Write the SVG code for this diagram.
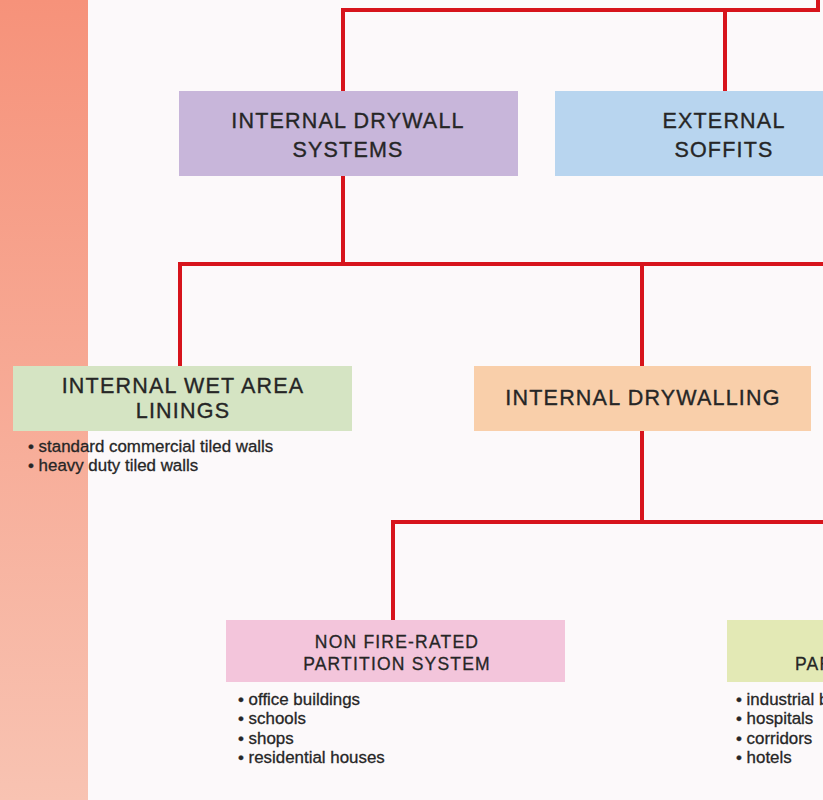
<svg xmlns="http://www.w3.org/2000/svg" width="823" height="800" viewBox="0 0 823 800">
<defs>
<linearGradient id="band" x1="0" y1="0" x2="0" y2="1">
<stop offset="0" stop-color="#f6927a"/>
<stop offset="1" stop-color="#f8c3b2"/>
</linearGradient>
</defs>
<style>
.t{font-family:"Liberation Sans",Arial,Helvetica,sans-serif;font-size:21.5px;letter-spacing:1.2px;fill:#262626;stroke:#262626;stroke-width:0.35px;text-anchor:middle}
.s{font-family:"Liberation Sans",Arial,Helvetica,sans-serif;font-size:17.5px;letter-spacing:1.2px;fill:#262626;stroke:#262626;stroke-width:0.3px;text-anchor:middle}
.b{font-family:"Liberation Sans",Arial,Helvetica,sans-serif;font-size:16.9px;fill:#262626;stroke:#262626;stroke-width:0.3px}
.c{fill:none;stroke:#d7141c;stroke-width:4;stroke-linecap:square}
</style>
<rect width="823" height="800" fill="#fcf9fa"/>
<rect x="0" y="0" width="88" height="800" fill="url(#band)"/>
<g id="connectors" class="c">
<path d="M818 0 V10 H343 V91"/>
<path d="M725 10 V91"/>
<path d="M343 176 V264"/>
<path d="M180 366 V264 H825"/>
<path d="M642 264 V366"/>
<path d="M642 431 V522"/>
<path d="M393 620 V522 H825"/>
</g>
<g id="internal-drywall-systems">
<rect x="179" y="91" width="339" height="85" fill="#c8b6da"/>
<text class="t" x="348" y="128">INTERNAL DRYWALL</text>
<text class="t" x="348" y="157">SYSTEMS</text>
</g>
<g id="external-soffits">
<rect x="555" y="91" width="270" height="85" fill="#b8d5ef"/>
<text class="t" x="724" y="128">EXTERNAL</text>
<text class="t" x="724" y="157">SOFFITS</text>
</g>
<g id="internal-wet-area-linings">
<rect x="13" y="366" width="339" height="65" fill="#d5e4c3"/>
<text class="t" x="183" y="393">INTERNAL WET AREA</text>
<text class="t" x="183" y="418">LININGS</text>
<text class="b" x="28" y="452">• standard commercial tiled walls</text>
<text class="b" x="28" y="471">• heavy duty tiled walls</text>
</g>
<g id="internal-drywalling">
<rect x="474" y="366" width="337" height="65" fill="#f9cfaa"/>
<text class="t" x="643" y="405">INTERNAL DRYWALLING</text>
</g>
<g id="non-fire-rated">
<rect x="226" y="620" width="339" height="62" fill="#f3c5db"/>
<text class="s" x="397" y="648">NON FIRE-RATED</text>
<text class="s" x="397" y="670">PARTITION SYSTEM</text>
<text class="b" x="238" y="705">• office buildings</text>
<text class="b" x="238" y="724">• schools</text>
<text class="b" x="238" y="744">• shops</text>
<text class="b" x="238" y="763">• residential houses</text>
</g>
<g id="fire-rated">
<rect x="727" y="620" width="100" height="62" fill="#e3e9b5"/>
<text class="s" x="795" y="670" style="text-anchor:start">PARTITION SYSTEM</text>
<text class="b" x="736" y="705">• industrial buildings</text>
<text class="b" x="736" y="724">• hospitals</text>
<text class="b" x="736" y="744">• corridors</text>
<text class="b" x="736" y="763">• hotels</text>
</g>
</svg>
